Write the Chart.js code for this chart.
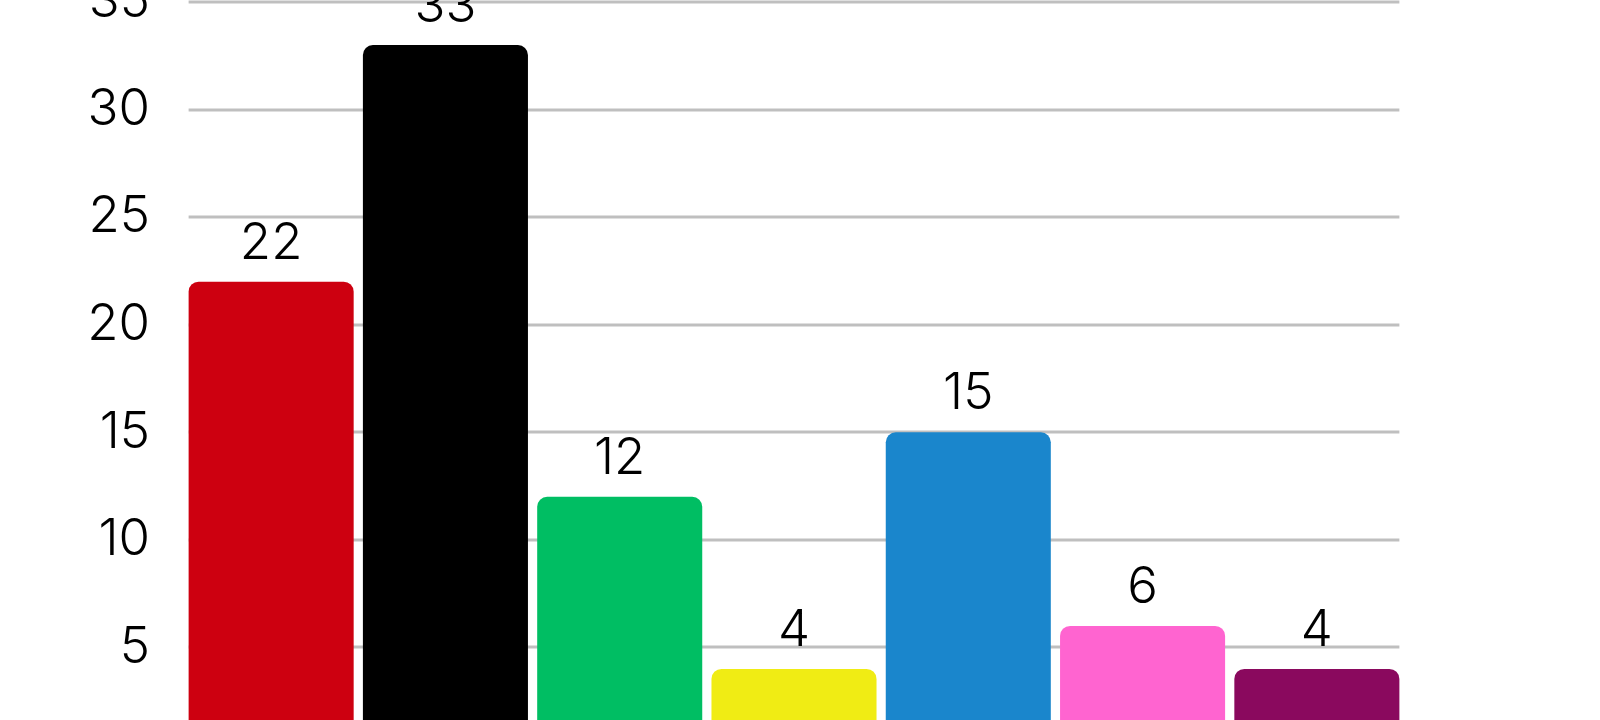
<!DOCTYPE html>
<html>
<head>
<meta charset="utf-8">
<script src="https://cdn.jsdelivr.net/npm/chart.js@4/dist/chart.umd.min.js"></script>
<style>
  html, body { margin: 0; padding: 0; background: #ffffff; overflow: hidden; width: 1600px; height: 720px; }
  #wrap { position: absolute; left: 0; top: -50px; width: 1600px; height: 845px; }
</style>
</head>
<body>
<div id="wrap"><canvas id="c" width="1600" height="845"></canvas></div>
<script>
const categories = ["A", "B", "C", "D", "E", "F", "G"];
const values = [22, 33, 12, 4, 15, 6, 4];
const barColors = ["#CD0010", "#000000", "#00BE63", "#F0EC14", "#1A86CC", "#FF64D0", "#8A095E"];
const yTicks = [0, 5, 10, 15, 20, 25, 30, 35];

const FONT = "Inter, 'Noto Sans', sans-serif";
const WEIGHT = "300";

// gridlines spanning from the first bar's left edge to the last bar's right edge
const gridLines = {
  id: 'gridLines',
  beforeDatasetsDraw(chart) {
    const ctx = chart.ctx;
    const meta = chart.getDatasetMeta(0);
    const first = meta.data[0], last = meta.data[meta.data.length - 1];
    const x0 = first.x - first.width / 2;
    const x1 = last.x + last.width / 2;
    const y = chart.scales.y;
    ctx.save();
    ctx.strokeStyle = '#BFBFBF';
    ctx.lineWidth = 3;
    yTicks.forEach(v => {
      const py = Math.round(y.getPixelForValue(v));
      ctx.beginPath();
      ctx.moveTo(x0, py);
      ctx.lineTo(x1, py);
      ctx.stroke();
    });
    ctx.restore();
  }
};

const valueLabels = {
  id: 'valueLabels',
  afterDatasetsDraw(chart) {
    const ctx = chart.ctx;
    const meta = chart.getDatasetMeta(0);
    ctx.save();
    ctx.font = WEIGHT + " 51px " + FONT;
    ctx.fillStyle = "#000000";
    ctx.textAlign = "center";
    ctx.textBaseline = "alphabetic";
    meta.data.forEach((bar, i) => {
      ctx.fillText(String(chart.data.datasets[0].data[i]), bar.x, bar.y - 23);
    });
    ctx.restore();
  }
};

new Chart(document.getElementById('c'), {
  type: 'bar',
  data: {
    labels: categories,
    datasets: [{
      data: values,
      backgroundColor: barColors,
      borderRadius: { topLeft: 10, topRight: 10, bottomLeft: 0, bottomRight: 0 },
      borderSkipped: 'bottom',
      categoryPercentage: 1.0,
      barPercentage: 0.947
    }]
  },
  options: {
    responsive: false,
    animation: false,
    devicePixelRatio: 1,
    layout: { padding: { top: 52, bottom: 40, left: 0, right: 196 } },
    plugins: { legend: { display: false }, tooltip: { enabled: false } },
    scales: {
      x: { display: false, grid: { display: false } },
      y: {
        min: 0,
        max: 35,
        afterBuildTicks(scale) { scale.ticks = yTicks.map(v => ({ value: v })); },
        afterFit(scale) { scale.width = 184; scale.paddingTop = 0; scale.paddingBottom = 0; },
        border: { display: false },
        grid: { display: false, drawTicks: false },
        ticks: {
          color: '#000000',
          padding: 34,
          font: { family: FONT, size: 51, weight: WEIGHT }
        }
      }
    }
  },
  plugins: [gridLines, valueLabels]
});
</script>
</body>
</html>
